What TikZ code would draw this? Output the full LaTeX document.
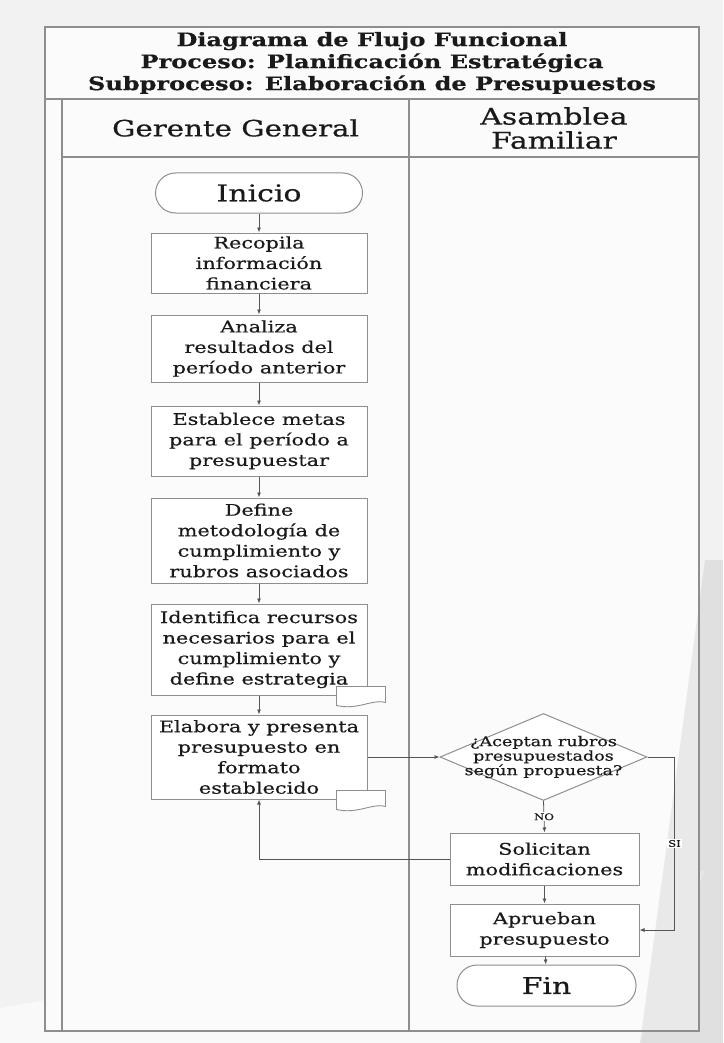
\documentclass[tikz,border=0pt]{standalone}
\usepackage{fontspec}
\setmainfont{DejaVu Serif}[FakeStretch=1.3, FakeBold=0.5]
\usepackage{xcolor}
\usepackage{tikz}
\usetikzlibrary{shapes.geometric,arrows.meta,calc}

\definecolor{linea}{HTML}{8E8E8E}
\definecolor{fondo}{HTML}{F2F2F2}
\definecolor{texto}{HTML}{1A1A1A}

\begin{document}
\begin{tikzpicture}[x=1pt,y=-1pt,
    >={Latex[length=5pt,width=4pt]},
    proceso/.style={draw=linea, line width=1pt, fill=white, minimum width=216pt,
        align=center, inner sep=1pt, text=texto, font=\fontsize{16}{20.5}\selectfont},
    terminal/.style={draw=linea, line width=1pt, fill=white, rounded corners=20pt,
        text=texto, font=\fontsize{23}{26}\selectfont},
    decision/.style={diamond, draw=linea, line width=1pt, fill=white,
        minimum width=207pt, minimum height=87pt, inner sep=0pt},
    documento/.style={draw=linea, line width=0.9pt, fill=white},
    flecha/.style={->, draw=linea!60!black, line width=0.8pt},
    marco/.style={draw=linea, line width=1.1pt},
    etiqueta/.style={fill=white, inner sep=1pt, text=texto, font=\fontsize{9}{10}\selectfont}]
        \useasboundingbox (0,0) rectangle (723,1043);
        \fill[fondo] (0,0) rectangle (723,1043);
        \fill[white, opacity=0.6] (0,1008) -- (420,935) -- (705,870) -- (640,1043) -- (0,1043) -- cycle;
        \fill[white!70!fondo] (45,27) rectangle (699,1031);
        \fill[black, opacity=0.07] (705,560) -- (723,560) -- (723,1043) -- (640,1043) -- cycle;

        \draw[marco] (45,27) rectangle (699,1031);
        \draw[marco] (45,99) -- (699,99);
        \draw[marco] (62,99) -- (62,1031);
        \draw[marco] (62,157) -- (699,157);
        \draw[marco] (409,99) -- (409,1031);

        \node[align=center, text=texto, font=\bfseries\fontsize{18.5}{22}\selectfont] (titulo) at (372,63)
            {Diagrama de Flujo Funcional\\Proceso: Planificación Estratégica\\Subproceso: Elaboración de Presupuestos};
        \node[text=texto, font=\fontsize{22.5}{24}\selectfont] (gerente) at (235.5,128) {Gerente General};
        \node[align=center, text=texto, font=\fontsize{23}{24}\selectfont] (asamblea) at (554,128) {Asamblea\\Familiar};

        \node[terminal, minimum width=207pt, minimum height=40pt] (inicio) at (259,193) {Inicio};
        \node[proceso, minimum height=60pt] (recopila) at (259,263) {Recopila\\información\\financiera};
        \node[proceso, minimum height=67pt] (analiza) at (259,348.5) {Analiza\\resultados del\\período anterior};
        \node[proceso, minimum height=70pt] (establece) at (259,441) {Establece metas\\para el período a\\presupuestar};
        \node[proceso, minimum height=85pt] (define) at (259,540.5) {Define\\metodología de\\cumplimiento y\\rubros asociados};
        \node[proceso, minimum height=91pt] (identifica) at (259,649.5) {Identifica recursos\\necesarios para el\\cumplimiento y\\define estrategia};
        \node[proceso, minimum height=84pt] (elabora) at (259,757) {Elabora y presenta\\presupuesto en\\formato\\establecido};

        \node[decision, label={[align=center, text=texto, font=\fontsize{13.5}{14.5}\selectfont]center:{¿Aceptan rubros\\presupuestados\\según propuesta?}}] (acepta) at (543.5,757) {};
        \node[proceso, minimum width=189pt, minimum height=52pt] (solicitan) at (544.5,859) {Solicitan\\modificaciones};
        \node[proceso, minimum width=189pt, minimum height=52pt] (aprueban) at (544.5,930) {Aprueban\\presupuesto};
        \node[terminal, minimum width=179pt, minimum height=41pt] (fin) at (546.5,985.5) {Fin};

        \foreach \caja in {identifica,elabora}
            \draw[documento] ($(\caja.south east)+(-31,-9)$) -- ($(\caja.south east)+(18,-9)$)
                -- ($(\caja.south east)+(18,7)$)
                .. controls ($(\caja.south east)+(6,3)$) and ($(\caja.south east)+(-10,15)$) .. ($(\caja.south east)+(-31,10)$)
                -- cycle;

        \draw[flecha] (inicio) -- (recopila);
        \draw[flecha] (recopila) -- (analiza);
        \draw[flecha] (analiza) -- (establece);
        \draw[flecha] (establece) -- (define);
        \draw[flecha] (define) -- (identifica);
        \draw[flecha] (identifica) -- (elabora);
        \draw[flecha] (elabora.east) -- (acepta.west);
        \draw[flecha] (acepta.south) -- (solicitan.north) node[midway, etiqueta] {NO};
        \draw[flecha] (acepta.east) -- ++(27,0) |- (aprueban.east) node[pos=0.25, etiqueta] {SI};
        \draw[flecha] (solicitan.west) -| (elabora.south);
        \draw[flecha] (solicitan) -- (aprueban);
        \draw[flecha] (aprueban) -- (fin);
    \end{tikzpicture}
\end{document}
